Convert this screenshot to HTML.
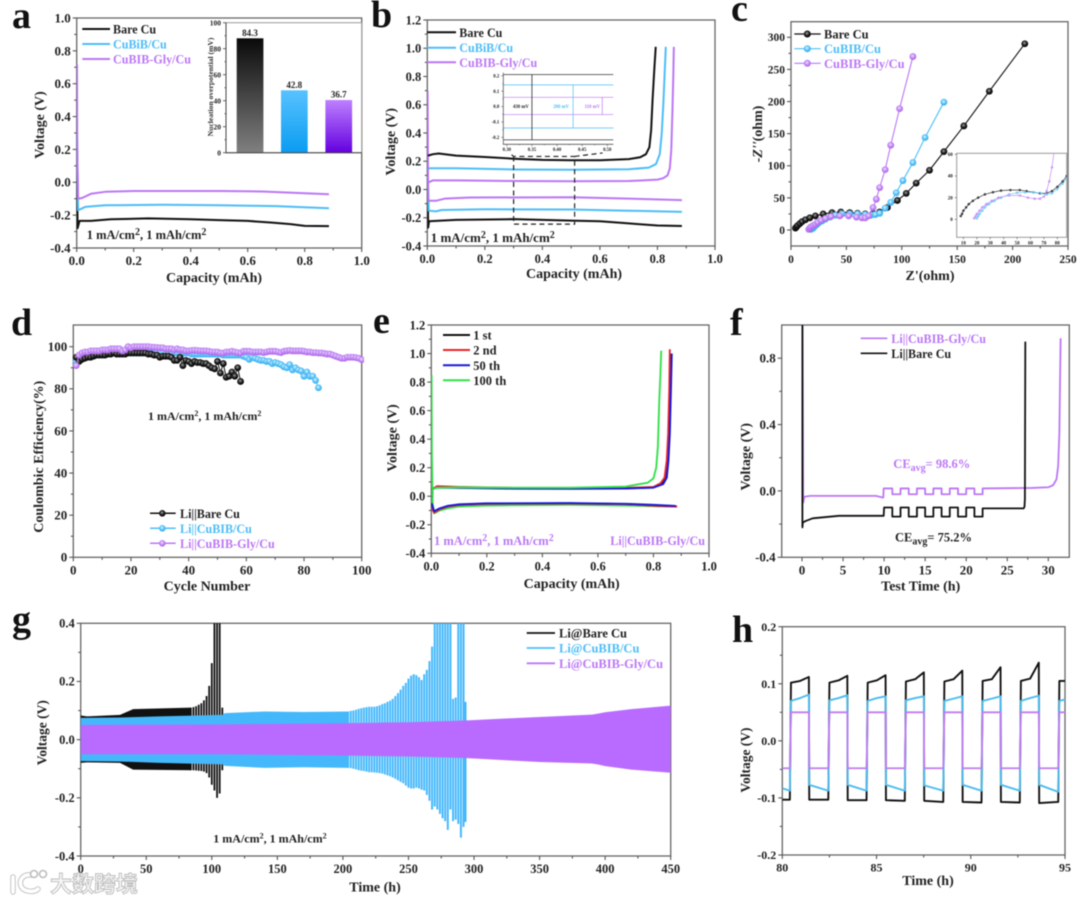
<!DOCTYPE html>
<html lang="en">
<head>
<meta charset="utf-8">
<title>Electrochemical performance panels</title>
<style>
html,body{margin:0;padding:0;background:#fff;}
body{width:1080px;height:903px;overflow:hidden;}
svg{display:block;filter:blur(0.55px);font-family:"Liberation Serif","Noto Serif CJK SC",serif;font-weight:bold;}
.frame{fill:none;stroke:#666;stroke-width:1.3;}
.title{font-size:14px;text-anchor:middle;fill:#222;}
.leg{font-size:12.1px;}
.leg2{font-size:12.5px;}
.letter{font-size:38px;fill:#111;}
.note{fill:#222;}
</style>
</head>
<body>
<svg id="figure" xmlns="http://www.w3.org/2000/svg" width="1080" height="903" viewBox="0 0 1080 903">
<defs>
<radialGradient id="sphere-black" cx="45%" cy="40%" r="60%"><stop offset="0" stop-color="#aaa"/><stop offset="0.5" stop-color="#222"/><stop offset="1" stop-color="#000"/></radialGradient>
<radialGradient id="sphere-blue" cx="45%" cy="40%" r="60%"><stop offset="0" stop-color="#e6f7ff"/><stop offset="0.5" stop-color="#62c6f8"/><stop offset="1" stop-color="#2faaf0"/></radialGradient>
<radialGradient id="sphere-purple" cx="45%" cy="40%" r="60%"><stop offset="0" stop-color="#f0e2ff"/><stop offset="0.5" stop-color="#c48ff5"/><stop offset="1" stop-color="#ab5eee"/></radialGradient>
<linearGradient id="bar-black" x1="0" y1="0" x2="0" y2="1"><stop offset="0" stop-color="#0a0a0a"/><stop offset="1" stop-color="#808080"/></linearGradient>
<linearGradient id="bar-blue" x1="0" y1="0" x2="0" y2="1"><stop offset="0" stop-color="#58c2ff"/><stop offset="1" stop-color="#0a9cf2"/></linearGradient>
<linearGradient id="bar-purple" x1="0" y1="0" x2="0" y2="1"><stop offset="0" stop-color="#bd80ff"/><stop offset="1" stop-color="#6400df"/></linearGradient>
<clipPath id="clip-a"><rect x="76.7" y="18" width="285" height="230"/></clipPath>
<clipPath id="clip-b"><rect x="427.3" y="20" width="287.7" height="226"/></clipPath>
<clipPath id="clip-c"><rect x="791" y="21.7" width="277" height="224.3"/></clipPath>
<clipPath id="clip-ci"><rect x="956.7" y="153.3" width="110" height="84"/></clipPath>
<clipPath id="clip-d"><rect x="70" y="325" width="294" height="232.3"/></clipPath>
<clipPath id="clip-e"><rect x="431.3" y="325" width="277.7" height="228.3"/></clipPath>
<clipPath id="clip-f"><rect x="781.7" y="325" width="287.6" height="232.3"/></clipPath>
<clipPath id="clip-g"><rect x="80.7" y="623.3" width="590" height="232.7"/></clipPath>
<clipPath id="clip-h"><rect x="782.3" y="626.7" width="282.7" height="228.3"/></clipPath>
</defs>

<!-- panel a -->
<g id="panel-a">
<text class="letter" x="12" y="28">a</text>
<rect class="frame" x="76.7" y="18" width="285" height="230"/>
<g id="a-axes"></g>
<g id="a-marks" clip-path="url(#clip-a)"></g>
<text class="title" x="214" y="282">Capacity (mAh)</text>
<text class="title" transform="translate(44,125) rotate(-90)">Voltage (V)</text>
<g>
<line x1="82.3" x2="110" y1="29" y2="29" stroke="#111" stroke-width="2"/>
<text class="leg" x="113" y="33.5" fill="#222">Bare Cu</text>
<line x1="82.3" x2="110" y1="44" y2="44" stroke="#4dbdf7" stroke-width="2"/>
<text class="leg" x="113" y="48.5" fill="#4dbdf7">CuBiB/Cu</text>
<line x1="82.3" x2="110" y1="59" y2="59" stroke="#bb77f5" stroke-width="2"/>
<text class="leg" x="113" y="63.5" fill="#bb77f5">CuBIB-Gly/Cu</text>
</g>
<text class="note" x="86.7" y="239" style="font-size:12.5px">1 mA/cm<tspan dy="-4" style="font-size:10px">2</tspan><tspan dy="4">, 1 mAh/cm</tspan><tspan dy="-4" style="font-size:10px">2</tspan></text>
<g id="a-inset">
<rect x="226" y="22.7" width="135.7" height="130" fill="#fff" stroke="#999" stroke-width="1"/>
<text x="0" y="0" transform="translate(213,87) rotate(-90)" font-size="7.6" text-anchor="middle" fill="#333">Nucleation overpotential (mV)</text>
</g>
</g>

<!-- panel b -->
<g id="panel-b">
<text class="letter" x="371" y="27">b</text>
<rect class="frame" x="427.3" y="20" width="287.7" height="226"/>
<g id="b-axes"></g>
<g id="b-marks" clip-path="url(#clip-b)"></g>
<text class="title" x="574" y="278">Capacity (mAh)</text>
<text class="title" transform="translate(395,141.7) rotate(-90)">Voltage (V)</text>
<g>
<line x1="427" x2="456" y1="32.3" y2="32.3" stroke="#111" stroke-width="2"/>
<text class="leg" x="459.3" y="37" fill="#222">Bare Cu</text>
<line x1="427" x2="456" y1="47.7" y2="47.7" stroke="#4dbdf7" stroke-width="2"/>
<text class="leg" x="459.3" y="52" fill="#4dbdf7">CuBiB/Cu</text>
<line x1="427" x2="456" y1="62.3" y2="62.3" stroke="#bb77f5" stroke-width="2"/>
<text class="leg" x="459.3" y="67" fill="#bb77f5">CuBIB-Gly/Cu</text>
</g>
<text class="note" x="430.7" y="242" style="font-size:13px">1 mA/cm<tspan dy="-4" style="font-size:10px">2</tspan><tspan dy="4">, 1 mAh/cm</tspan><tspan dy="-4" style="font-size:10px">2</tspan></text>
<g id="b-inset"></g>
</g>

<!-- panel c -->
<g id="panel-c">
<text class="letter" x="731" y="21">c</text>
<rect class="frame" x="791" y="21.7" width="277" height="224.3"/>
<g id="c-axes"></g>
<g id="c-marks" clip-path="url(#clip-c)"></g>
<text class="title" x="930" y="280">Z'(ohm)</text>
<text class="title" transform="translate(762,134) rotate(-90)">-<tspan font-style="italic">Z''</tspan>(ohm)</text>
<g>
<line x1="794.3" x2="820.7" y1="34" y2="34" stroke="#111" stroke-width="1.2"/>
<circle cx="807.3" cy="34" r="3.5" fill="url(#sphere-black)"/>
<text class="leg2" x="824" y="38.5" fill="#222">Bare Cu</text>
<line x1="794.3" x2="820.7" y1="48.7" y2="48.7" stroke="#4dbdf7" stroke-width="1.2"/>
<circle cx="807.3" cy="48.7" r="3.5" fill="url(#sphere-blue)"/>
<text class="leg2" x="824" y="53" fill="#4dbdf7">CuBIB/Cu</text>
<line x1="794.3" x2="820.7" y1="63.3" y2="63.3" stroke="#bb77f5" stroke-width="1.2"/>
<circle cx="807.3" cy="63.3" r="3.5" fill="url(#sphere-purple)"/>
<text class="leg2" x="824" y="68" fill="#bb77f5">CuBIB-Gly/Cu</text>
</g>
<g id="c-inset">
<rect x="956.7" y="153.3" width="110" height="84" fill="#fff" stroke="#999" stroke-width="1"/>
</g>
</g>

<!-- panel d -->
<g id="panel-d">
<text class="letter" x="11" y="335">d</text>
<rect class="frame" x="73.3" y="325" width="288.4" height="232.3"/>
<g id="d-axes"></g>
<g id="d-marks" clip-path="url(#clip-d)"></g>
<text class="title" x="207" y="590.7">Cycle Number</text>
<text class="title" transform="translate(43,456.7) rotate(-90)">Coulombic Efficiency(%)</text>
<text class="note" x="148" y="420" style="font-size:12px">1 mA/cm<tspan dy="-4" style="font-size:8px">2</tspan><tspan dy="4">, 1 mAh/cm</tspan><tspan dy="-4" style="font-size:8px">2</tspan></text>
<g>
<line x1="150" x2="175.7" y1="513.3" y2="513.3" stroke="#111" stroke-width="1.5"/>
<circle cx="162.3" cy="513.3" r="3.3" fill="url(#sphere-black)"/>
<text class="leg" x="180" y="518" fill="#222">Li||Bare Cu</text>
<line x1="150" x2="175.7" y1="528.3" y2="528.3" stroke="#4dbdf7" stroke-width="1.5"/>
<circle cx="162.3" cy="528.3" r="3.3" fill="url(#sphere-blue)"/>
<text class="leg" x="180" y="533" fill="#4dbdf7">Li||CuBIB/Cu</text>
<line x1="150" x2="175.7" y1="543.3" y2="543.3" stroke="#bb77f5" stroke-width="1.5"/>
<circle cx="162.3" cy="543.3" r="3.3" fill="url(#sphere-purple)"/>
<text class="leg" x="180" y="548" fill="#bb77f5">Li||CuBIB-Gly/Cu</text>
</g>
</g>

<!-- panel e -->
<g id="panel-e">
<text class="letter" x="373" y="333">e</text>
<rect class="frame" x="431.3" y="325" width="277.7" height="228.3"/>
<g id="e-axes"></g>
<g id="e-marks" clip-path="url(#clip-e)"></g>
<text class="title" x="571.7" y="588">Capacity (mAh)</text>
<text class="title" transform="translate(396.7,438) rotate(-90)">Voltage (V)</text>
<g>
<line x1="443" x2="470" y1="335" y2="335" stroke="#111" stroke-width="2"/>
<text class="leg2" x="473.3" y="339.5" fill="#222">1 st</text>
<line x1="443" x2="470" y1="350" y2="350" stroke="#e8242a" stroke-width="2"/>
<text class="leg2" x="473.3" y="354.5" fill="#222">2 nd</text>
<line x1="443" x2="470" y1="365.3" y2="365.3" stroke="#1a1ad8" stroke-width="2"/>
<text class="leg2" x="473.3" y="369.8" fill="#222">50 th</text>
<line x1="443" x2="470" y1="380.3" y2="380.3" stroke="#35e04a" stroke-width="2"/>
<text class="leg2" x="473.3" y="384.8" fill="#222">100 th</text>
</g>
<text class="note" x="434" y="545" style="fill:#bb77f5;font-size:12.5px">1 mA/cm<tspan dy="-4" style="font-size:10px">2</tspan><tspan dy="4">, 1 mAh/cm</tspan><tspan dy="-4" style="font-size:10px">2</tspan></text>
<text class="note" x="705" y="545" text-anchor="end" style="fill:#bb77f5;font-size:12.1px">Li||CuBIB-Gly/Cu</text>
</g>

<!-- panel f -->
<g id="panel-f">
<text class="letter" x="730" y="335">f</text>
<rect class="frame" x="781.7" y="325" width="287.6" height="232.3"/>
<g id="f-axes"></g>
<g id="f-marks" clip-path="url(#clip-f)"></g>
<text class="title" x="920.7" y="590.7">Test Time (h)</text>
<text class="title" transform="translate(750,456.7) rotate(-90)">Voltage (V)</text>
<g>
<line x1="860.7" x2="887.3" y1="338.3" y2="338.3" stroke="#bb77f5" stroke-width="1.6"/>
<text class="leg" x="891.3" y="343" fill="#bb77f5">Li||CuBIB-Gly/Cu</text>
<line x1="860.7" x2="887.3" y1="353.3" y2="353.3" stroke="#111" stroke-width="1.6"/>
<text class="leg" x="891.3" y="358" fill="#222">Li||Bare Cu</text>
</g>
<text class="note" x="893.3" y="468" style="fill:#bb77f5;font-size:12.5px">CE<tspan dy="3" style="font-size:10px">avg</tspan><tspan dy="-3">= 98.6%</tspan></text>
<text class="note" x="895" y="541.7" style="font-size:12.5px">CE<tspan dy="3" style="font-size:10px">avg</tspan><tspan dy="-3">= 75.2%</tspan></text>
</g>

<!-- panel g -->
<g id="panel-g">
<text class="letter" x="12" y="632">g</text>
<rect class="frame" x="80.7" y="623.3" width="590" height="232.7"/>
<g id="g-axes"></g>
<g id="g-marks" clip-path="url(#clip-g)"></g>
<text class="title" x="375" y="891.7">Time (h)</text>
<text class="title" style="font-size:13.5px" transform="translate(46.7,732.7) rotate(-90)">Voltage (V)</text>
<text class="note" x="213.3" y="842.7" style="font-size:12px">1 mA/cm<tspan dy="-4" style="font-size:8px">2</tspan><tspan dy="4">, 1 mAh/cm</tspan><tspan dy="-4" style="font-size:8px">2</tspan></text>
<g>
<line x1="526.7" x2="555" y1="633" y2="633" stroke="#111" stroke-width="1.8"/>
<text class="leg2" x="559" y="637.5" fill="#222">Li@Bare Cu</text>
<line x1="526.7" x2="555" y1="648" y2="648" stroke="#4dbdf7" stroke-width="1.8"/>
<text class="leg2" x="559" y="652.5" fill="#4dbdf7">Li@CuBIB/Cu</text>
<line x1="526.7" x2="555" y1="663.3" y2="663.3" stroke="#bb77f5" stroke-width="1.8"/>
<text class="leg2" x="559" y="667.8" fill="#bb77f5">Li@CuBIB-Gly/Cu</text>
</g>
</g>

<!-- panel h -->
<g id="panel-h">
<text class="letter" x="732" y="642">h</text>
<rect class="frame" x="782.3" y="626.7" width="282.7" height="228.3"/>
<g id="h-axes"></g>
<g id="h-marks" clip-path="url(#clip-h)"></g>
<text class="title" x="928" y="885">Time (h)</text>
<text class="title" style="font-size:13.5px" transform="translate(750,760) rotate(-90)">Voltage (V)</text>
</g>

<!-- watermark -->
<g>
<path d="M13 877 L13 892 M31 875 C19 873 16 889 28 891 C32 892 36 891 38 889" fill="none" stroke="#c4c4c4" stroke-width="5.5" stroke-linecap="round"/>
<path d="M13 877 L13 892 M31 875 C19 873 16 889 28 891 C32 892 36 891 38 889" fill="none" stroke="#fff" stroke-width="3.5" stroke-linecap="round"/>
<circle cx="34" cy="874" r="3.5" fill="#fff" stroke="#bdbdbd" stroke-width="1.6"/>
<circle cx="43" cy="874" r="3.5" fill="#fff" stroke="#bdbdbd" stroke-width="1.6"/>
<text x="50" y="892" font-size="22" fill="#f6f6f6" stroke="#bdbdbd" stroke-width="0.9" style="font-family:'Liberation Sans','Noto Sans CJK SC',sans-serif">大数跨境</text>
</g>
</svg>

<script>
/* ---------- panel a ---------- */
const aXTicks = ['0.0','0.2','0.4','0.6','0.8','1.0'];
const aYTicks = ['-0.4','-0.2','0.0','0.2','0.4','0.6','0.8','1.0'];
const aBareQ = [0.001,0.003,0.01,0.05,0.12,0.25,0.4,0.5,0.6,0.68,0.75,0.8,0.885];
const aBareV = [0.3,-0.28,-0.235,-0.235,-0.225,-0.22,-0.225,-0.23,-0.235,-0.245,-0.255,-0.265,-0.267];
const aCuBIBQ = [0.001,0.005,0.03,0.1,0.3,0.5,0.7,0.885];
const aCuBIBV = [0.3,-0.17,-0.15,-0.14,-0.137,-0.14,-0.145,-0.158];
const aGlyQ = [0.001,0.002,0.005,0.02,0.05,0.1,0.2,0.5,0.65,0.8,0.885];
const aGlyV = [0.72,0.2,-0.1,-0.095,-0.07,-0.058,-0.053,-0.053,-0.056,-0.067,-0.073];
const aInsetYTicks = ['0','20','40','60','80','100'];
const aInsetBars = [88,48,40.5];
const aInsetLabels = ['84.3','42.8','36.7'];

/* ---------- panel b ---------- */
const bXTicks = ['0.0','0.2','0.4','0.6','0.8','1.0'];
const bYTicks = ['-0.4','-0.2','0.0','0.2','0.4','0.6','0.8','1.0','1.2'];
const bBareChargeQ = [0.002,0.02,0.04,0.1,0.2,0.3,0.4,0.5,0.6,0.7,0.74,0.76,0.772,0.778,0.783,0.789,0.794];
const bBareChargeV = [0.24,0.25,0.255,0.24,0.23,0.218,0.21,0.207,0.207,0.215,0.228,0.25,0.3,0.42,0.635,0.85,1.01];
const bCuBIBChargeQ = [0.005,0.1,0.3,0.5,0.7,0.77,0.795,0.808,0.815,0.821,0.825,0.829];
const bCuBIBChargeV = [0.15,0.15,0.142,0.14,0.143,0.155,0.18,0.25,0.4,0.63,0.82,1.01];
const bGlyChargeQ = [0.004,0.02,0.1,0.3,0.5,0.7,0.8,0.82,0.835,0.843,0.848,0.852,0.855,0.857];
const bGlyChargeV = [0.05,0.065,0.065,0.06,0.058,0.06,0.07,0.08,0.1,0.15,0.28,0.55,0.8,1.01];
const bBareDisQ = [0.001,0.003,0.006,0.1,0.3,0.5,0.6,0.7,0.8,0.885];
const bBareDisV = [0.1,-0.27,-0.225,-0.215,-0.21,-0.22,-0.225,-0.24,-0.255,-0.258];
const bCuBIBDisQ = [0.002,0.005,0.03,0.05,0.2,0.5,0.7,0.885];
const bCuBIBDisV = [0.1,-0.15,-0.155,-0.145,-0.14,-0.142,-0.15,-0.158];
const bGlyDisQ = [0.001,0.003,0.03,0.06,0.15,0.5,0.7,0.885];
const bGlyDisV = [0.7,-0.08,-0.08,-0.065,-0.057,-0.055,-0.065,-0.075];
const bBoxQ = [0.3,0.512];
const bBoxV = [0.234,-0.245];
const biXTicks = ['0.30','0.35','0.40','0.45','0.50'];
const biYTicks = ['-0.2','-0.1','0.0','0.1','0.2'];
const biLevels = [0.208,0.141,0.06,-0.052,-0.139,-0.216];
const biGapTop = [0.208,0.141,0.06];
const biGapBottom = [-0.216,-0.139,-0.052];
const biGapQ = [0.35,0.432,0.49];
const biGapLabels = ['430 mV','280 mV','110 mV'];

/* ---------- panel c ---------- */
const cXTicks = ['0','50','100','150','200','250'];
const cYTicks = ['0','50','100','150','200','250','300'];
const cBareZr = [4,5,6,8,10,13,17,22,29,37,45,53,60,67,74,80,87,96,104,113,125,138,156,179,211];
const cBareZi = [3,5,7,10,13,16,19,22,25,27,28,27,26,25,26,28,35,46,57,73,93,122,162,216,290];
const cCuBIBZr = [18,19,20,21,23,25,28,31,35,40,46,53,60,67,72,76,80,85,90,95,101,110,121,138];
const cCuBIBZi = [1,2,3,5,8,11,14,17,20,23,25,25,25,24,23,24,26,34,43,58,77,105,144,199];
const cGlyZr = [16,17,18,20,22,24,27,31,36,44,52,59,64,67,70,74,77,80,85,90,98,110];
const cGlyZi = [1,3,5,7,9,12,15,18,21,22,22,20,19,19,22,35,48,66,94,132,189,270];
const ciXTicks = ['10','20','30','40','50','60','70','80'];
const ciYTicks = ['0','20','40','60'];
const ciBareZr = [8,9,10,12,14,17,21,26,32,38,45,52,57,62,67,72,76,80,84,87];
const ciBareZi = [3,5,8,11,14,17,20,23,25,26.5,27,27,26,25,24,24,26,30,35,40];
const ciCuBIBZr = [20,21,22,24,26,29,33,38,44,50,56,62,68,72,76,80,84,87];
const ciCuBIBZi = [1,3,5,8,11,14,17,20,23,24.5,25,25,24,23,24,28,33,38];
const ciGlyZr = [18,19,20,22,24,27,31,36,44,52,58,63,67,70,72,74,76,78];
const ciGlyZi = [1,3,5,8,11,14,17,20,22,22,20,19,19,21,26,35,48,66];

/* ---------- panel d ---------- */
const dXTicks = ['0','20','40','60','80','100'];
const dYTicks = ['0','20','40','60','80','100'];
const dBareCE = [95,93,94,94.5,95,95,95.5,96,96,96,96,96.5,96.5,97,96.5,96.5,96.5,96.5,97,97,97,97,97,97,97,96.5,96.5,96,96,95,95.5,95.5,95.5,95,93.5,93.5,95,91,93.5,93,92,93,92.5,92.5,92,92,91,90,89.5,93,87.5,92,85.5,86,88,86,90,83.5];
const dCuBIBCE = [93,94,95,95.5,96,96,96,96,96.5,96.5,96.5,96.5,97,97,97,97,97,97,97,97,97,97,97,97,97,97,97,97,97,97,97,97,97,97,97,97,97,97,97,97,96.5,96.5,96.5,96.5,96.5,96.5,96.5,96.5,96.5,96.5,96.5,96,96,96,96,96,96,96,95.5,95,94,95,94.5,94,93.5,93.5,93,93,92,92.5,92,91.5,90.5,90,91.5,89,90,89,88.5,86,88,86,86,84,80.5];
const dGlyCE = [91,96,97,97.5,97.5,98,98,98,98,98.5,98.5,98.5,99,99,99,99,98,98.5,100,99.5,100,100,100,100,100,100,99.8,99.7,99.6,99.5,99.5,99,99,99,98.5,99,98.5,98.5,98,98,98.2,98.3,98.2,98,98,98,97.8,97.5,97.5,97.5,97,97,97.5,97.5,97.8,97.5,97.2,97,97.8,97.8,97.8,97.5,97.5,97.5,97.5,97.2,97.5,97.8,97.8,97.8,97.5,97.2,97.8,98,98.2,98,98,98,98,97.8,97.5,97.5,97.2,97.2,97,97,96.8,96.5,96.5,96,95.5,95,94.5,94.5,95,95,95,94.8,94.5,93.8];

/* ---------- panel e ---------- */
const eXTicks = ['0.0','0.2','0.4','0.6','0.8','1.0'];
const eYTicks = ['-0.4','-0.2','0.0','0.2','0.4','0.6','0.8','1.0','1.2'];
const e1stChargeQ = [0.002,0.005,0.02,0.1,0.3,0.5,0.7,0.8,0.83,0.845,0.852,0.857,0.861,0.865];
const e1stChargeV = [0.0,0.05,0.065,0.06,0.055,0.055,0.056,0.062,0.09,0.13,0.25,0.44,0.75,1.0];
const e2ndChargeQ = [0.002,0.005,0.02,0.1,0.3,0.5,0.7,0.8,0.825,0.84,0.848,0.853,0.857,0.859];
const e2ndChargeV = [0.0,0.05,0.07,0.065,0.058,0.056,0.058,0.065,0.09,0.13,0.25,0.44,0.75,1.03];
const e50thChargeQ = [0.002,0.005,0.02,0.1,0.3,0.5,0.7,0.8,0.835,0.848,0.854,0.859,0.863,0.866];
const e50thChargeV = [0.0,0.05,0.06,0.058,0.053,0.052,0.054,0.06,0.085,0.13,0.25,0.44,0.75,1.0];
const e100thChargeQ = [0.002,0.005,0.02,0.1,0.3,0.5,0.7,0.78,0.8,0.81,0.816,0.821,0.825,0.828];
const e100thChargeV = [0.0,0.05,0.06,0.062,0.06,0.06,0.068,0.095,0.125,0.2,0.35,0.675,0.85,1.02];
const e1stDisQ = [0.001,0.01,0.03,0.06,0.1,0.2,0.5,0.7,0.8,0.885];
const e1stDisV = [-0.05,-0.11,-0.09,-0.07,-0.06,-0.052,-0.05,-0.055,-0.065,-0.072];
const e2ndDisQ = [0.001,0.01,0.03,0.06,0.1,0.2,0.5,0.7,0.8,0.885];
const e2ndDisV = [-0.08,-0.115,-0.092,-0.072,-0.061,-0.053,-0.051,-0.056,-0.066,-0.073];
const e50thDisQ = [0.001,0.01,0.03,0.06,0.1,0.2,0.5,0.7,0.8,0.88];
const e50thDisV = [-0.05,-0.105,-0.085,-0.067,-0.057,-0.05,-0.048,-0.053,-0.06,-0.068];
const e100thDisQ = [0.001,0.002,0.005,0.01,0.03,0.06,0.1,0.2,0.5,0.7,0.85];
const e100thDisV = [0.85,0.3,-0.05,-0.12,-0.1,-0.085,-0.072,-0.065,-0.06,-0.065,-0.072];

/* ---------- panel f ---------- */
const fXTicks = ['0','5','10','15','20','25','30'];
const fYTicks = ['-0.4','0.0','0.4','0.8'];
const fGlyT = [0.05,0.15,0.3,1,9,9.9,9.95,10,11,11,12,12,13,13,14,14,15,15,16,16,17,17,18,18,19,19,20,20,21,21,22,22,28,30,30.6,31,31.2,31.35,31.5];
const fGlyV = [1.2,-0.07,-0.035,-0.03,-0.03,-0.04,0.015,0.015,0.015,-0.02,-0.02,0.015,0.015,-0.02,-0.02,0.015,0.015,-0.02,-0.02,0.015,0.015,-0.02,-0.02,0.015,0.015,-0.02,-0.02,0.015,0.015,-0.02,-0.02,0.015,0.018,0.022,0.035,0.07,0.15,0.35,0.92];
const fBareT = [0.05,0.05,0.1,0.5,1.3,4.5,9.95,10,11,11,12,12,13,13,14,14,15,15,16,16,17,17,18,18,19,19,20,20,21,21,22,22,27,27.1,27.15,27.2];
const fBareV = [1.2,-0.22,-0.19,-0.18,-0.165,-0.15,-0.15,-0.1,-0.1,-0.155,-0.155,-0.1,-0.1,-0.155,-0.155,-0.1,-0.1,-0.155,-0.155,-0.1,-0.1,-0.155,-0.155,-0.1,-0.1,-0.155,-0.155,-0.1,-0.1,-0.155,-0.155,-0.105,-0.105,-0.095,-0.05,0.9];

/* ---------- panel g ---------- */
const gXTicks = ['0','50','100','150','200','250','300','350','400','450'];
const gYTicks = ['-0.4','-0.2','0.0','0.2','0.4'];
const gBareBandT = [0,5,30,40,84];
const gBareBandUp = [0.083,0.08,0.085,0.105,0.11];
const gBareBandLow = [-0.08,-0.078,-0.08,-0.103,-0.105];
const gBareSpikeT = [84,86,88,90,92,94,96,98,100,102,104,106,108];
const gBareSpikeUp = [0.11,0.112,0.115,0.12,0.125,0.135,0.15,0.185,0.263,0.45,0.45,0.45,0.11];
const gBareSpikeLow = [-0.105,-0.105,-0.106,-0.107,-0.108,-0.11,-0.115,-0.13,-0.155,-0.175,-0.2,-0.185,-0.105];
const gCuBIBBandT = [0,30,60,108,110,140,170,204];
const gCuBIBBandUp = [0.075,0.076,0.08,0.085,0.091,0.097,0.095,0.097];
const gCuBIBBandLow = [-0.074,-0.075,-0.08,-0.085,-0.09,-0.097,-0.095,-0.097];
const gCuBIBSpikeT = [204,206,208,210,212,214,216,218,220,222,224,226,228,230,232,234,236,238,240,242,244,246,248,250,252,254,256,258,260,262,264,266,268,270,272,274,276,278,280,282,284,286,288,290,292,293.5];
const gCuBIBSpikeUp = [0.097,0.099,0.1,0.103,0.106,0.108,0.11,0.112,0.113,0.113,0.113,0.115,0.118,0.122,0.125,0.13,0.134,0.14,0.15,0.16,0.172,0.185,0.195,0.21,0.22,0.225,0.222,0.215,0.205,0.225,0.24,0.27,0.32,0.45,0.45,0.45,0.45,0.45,0.45,0.45,0.14,0.145,0.45,0.45,0.45,0.13];
const gCuBIBSpikeLow = [-0.097,-0.098,-0.1,-0.102,-0.105,-0.107,-0.108,-0.11,-0.112,-0.112,-0.113,-0.114,-0.115,-0.117,-0.12,-0.123,-0.126,-0.13,-0.135,-0.14,-0.145,-0.15,-0.158,-0.165,-0.168,-0.168,-0.165,-0.168,-0.172,-0.175,-0.19,-0.21,-0.24,-0.23,-0.24,-0.255,-0.27,-0.28,-0.31,-0.24,-0.28,-0.275,-0.29,-0.337,-0.3,-0.283];
const gGlyBandT = [0,100,206,250,293,350,390,395,400,420,450];
const gGlyBandUp = [0.051,0.052,0.057,0.06,0.066,0.078,0.086,0.09,0.094,0.105,0.117];
const gGlyBandLow = [-0.05,-0.05,-0.055,-0.058,-0.063,-0.077,-0.082,-0.086,-0.091,-0.103,-0.114];

/* ---------- panel h ---------- */
const hXTicks = ['80','85','90','95'];
const hYTicks = ['-0.2','-0.1','0.0','0.1','0.2'];
const hRise = [80.4,82.44,84.47,86.5,88.54,90.57,92.6,94.64];
const hFall = [81.43,83.47,85.5,87.53,89.57,91.6,93.63,96];
const hBareUpStart = [0.102,0.102,0.102,0.104,0.104,0.105,0.105,0.105];
const hBareUpMid = [0.105,0.106,0.106,0.108,0.108,0.108,0.109,0.105];
const hBareUpEnd = [0.112,0.114,0.115,0.12,0.123,0.129,0.137,0.105];
const hBareLowStart = [-0.103,-0.104,-0.104,-0.105,-0.107,-0.107,-0.109,-0.109];
const hBareLowEnd = [-0.103,-0.104,-0.105,-0.107,-0.108,-0.108,-0.107,-0.107];
const hCuBIBUpStart = [0.07,0.071,0.07,0.071,0.07,0.07,0.07,0.07];
const hCuBIBUpMid = [0.075,0.075,0.075,0.075,0.074,0.074,0.075,0.074];
const hCuBIBUpEnd = [0.081,0.08,0.078,0.078,0.078,0.078,0.079,0.074];
const hCuBIBLowStart = [-0.077,-0.077,-0.077,-0.078,-0.077,-0.077,-0.077,-0.077];
const hCuBIBLowEnd = [-0.087,-0.087,-0.087,-0.087,-0.087,-0.087,-0.089,-0.089];
const hGlyUp = [0.05,0.05,0.05,0.05,0.05,0.05,0.05,0.05];
const hGlyLow = [-0.048,-0.048,-0.048,-0.048,-0.048,-0.048,-0.048,-0.048];

/* ---------- colours ---------- */
const BLACK = '#111', BLUE = '#4dbdf7', PURPLE = '#bb77f5';
const NS = 'http://www.w3.org/2000/svg';

function linear(d0, d1, r0, r1) {
  return function (v) { return r0 + (v - d0) * (r1 - r0) / (d1 - d0); };
}
function gEl(id) { return document.getElementById(id); }
function make(tag, parent) {
  const el = document.createElementNS(NS, tag);
  parent.appendChild(el);
  return el;
}
function tickLine(parent, x1, y1, x2, y2, w, color) {
  const l = make('line', parent);
  l.setAttribute('x1', x1); l.setAttribute('y1', y1);
  l.setAttribute('x2', x2); l.setAttribute('y2', y2);
  l.setAttribute('stroke', color || '#555');
  l.setAttribute('stroke-width', w);
  
  
}
function tickText(parent, x, y, txt, size, anchor) {
  const t = make('text', parent);
  t.setAttribute('x', x); t.setAttribute('y', y);
  t.setAttribute('font-size', size);
  t.setAttribute('text-anchor', anchor);
  t.setAttribute('fill', '#222');
  t.textContent = txt;
  
  
}
/* draws ticks + labels; minor step subdivides between labelled ticks */
function axes(parent, X, Y, xTicks, yTicks, o) {
  const baseY = o.bottom, baseX = o.left;
  const fs = o.fs, maj = o.maj === undefined ? 4 : o.maj, min = o.min === undefined ? 2.5 : o.min;
  const w = o.w || 1.1;
  const xv = xTicks.map(Number), yv = yTicks.map(Number);
  xv.forEach(function (v, i) {
    tickLine(parent, X(v), baseY, X(v), baseY + maj, w);
    tickText(parent, X(v), baseY + o.xoff, xTicks[i], fs, 'middle');
    if (o.xMinor && i < xv.length - 1) {
      for (let m = v + o.xMinor; m < xv[i + 1] - 1e-6; m += o.xMinor) tickLine(parent, X(m), baseY, X(m), baseY + min, w);
    }
  });
  yv.forEach(function (v, i) {
    tickLine(parent, baseX, Y(v), baseX - maj, Y(v), w);
    tickText(parent, baseX - maj - 2, Y(v) + fs * 0.34, yTicks[i], fs, 'end');
    if (o.yMinor && i < yv.length - 1) {
      for (let m = v + o.yMinor; m < yv[i + 1] - 1e-6; m += o.yMinor) tickLine(parent, baseX, Y(m), baseX - min, Y(m), w);
    }
  });
}
function curve(parent, xs, ys, X, Y, color, w, name) {
  const p = make('path', parent);
  p.setAttribute('d', xs.map(function (v, i) { return (i ? 'L' : 'M') + X(v).toFixed(2) + ' ' + Y(ys[i]).toFixed(2); }).join(''));
  p.setAttribute('fill', 'none');
  p.setAttribute('stroke', color);
  p.setAttribute('stroke-width', w);
  p.setAttribute('stroke-linejoin', 'round');
  
  
}
function dots(parent, xs, ys, X, Y, grad, r, name) {
  xs.forEach(function (v, i) {
    const c = make('circle', parent);
    c.setAttribute('cx', X(v).toFixed(2));
    c.setAttribute('cy', Y(ys[i]).toFixed(2));
    c.setAttribute('r', r);
    c.setAttribute('fill', 'url(#' + grad + ')');
    
    
  });
}
function band(parent, ts, up, low, X, Y, color, name) {
  const top = ts.map(function (t, i) { return X(t).toFixed(2) + ',' + Y(up[i]).toFixed(2); });
  const bot = ts.map(function (t, i) { return X(t).toFixed(2) + ',' + Y(low[i]).toFixed(2); }).reverse();
  const p = make('polygon', parent);
  p.setAttribute('points', top.concat(bot).join(' '));
  p.setAttribute('fill', color);
  
  
}
function spikes(parent, ts, up, low, X, Y, color, w, name) {
  ts.forEach(function (t, i) {
    const l = make('line', parent);
    l.setAttribute('x1', X(t).toFixed(2)); l.setAttribute('x2', X(t).toFixed(2));
    l.setAttribute('y1', Y(up[i]).toFixed(2)); l.setAttribute('y2', Y(low[i]).toFixed(2));
    l.setAttribute('stroke', color);
    l.setAttribute('stroke-width', w);
    
    
  });
}

/* ===== panel a ===== */
(function () {
  const X = linear(0, 1, 76.7, 361.7), Y = linear(-0.4, 1, 248, 18);
  axes(gEl('a-axes'), X, Y, aXTicks, aYTicks, { bottom: 248, left: 76.7, fs: 13, xoff: 17, xMinor: 0.1, yMinor: 0.1 });
  const m = gEl('a-marks');
  curve(m, aBareQ, aBareV, X, Y, BLACK, 2, 'curve-bare-cu');
  curve(m, aCuBIBQ, aCuBIBV, X, Y, BLUE, 2, 'curve-cubib');
  curve(m, aGlyQ, aGlyV, X, Y, PURPLE, 2, 'curve-cubib-gly');
  const ins = gEl('a-inset');
  const IY = linear(0, 100, 152.7, 22.7);
  const centers = [250, 294.3, 338.7];
  const fills = ['bar-black', 'bar-blue', 'bar-purple'];
  axes(ins, linear(0, 1, 226, 361.7), IY, [], aInsetYTicks, { bottom: 152.7, left: 226, fs: 7.5, xoff: 8, yMinor: 10, maj: 3, min: 1.5, w: 0.9 });
  aInsetBars.forEach(function (v, i) {
    const r = make('rect', ins);
    r.setAttribute('x', centers[i] - 13.3);
    r.setAttribute('width', 26.7);
    r.setAttribute('y', IY(v));
    r.setAttribute('height', IY(0) - IY(v));
    r.setAttribute('fill', 'url(#' + fills[i] + ')');
    
    
    const t = make('text', ins);
    t.setAttribute('x', centers[i]);
    t.setAttribute('y', IY(v) - 2.5);
    t.setAttribute('font-size', 9);
    t.setAttribute('text-anchor', 'middle');
    t.setAttribute('fill', '#222');
    t.textContent = aInsetLabels[i];
    
    
  });
  const bl = make('path', ins);
  bl.setAttribute('d', 'M226 22.7V152.7H361.7');
  bl.setAttribute('fill', 'none');
  bl.setAttribute('stroke', '#444');
  bl.setAttribute('stroke-width', 1);
  
  
})();

/* ===== panel b ===== */
(function () {
  const X = linear(0, 1, 427.3, 715), Y = linear(-0.4, 1.2, 246, 20);
  axes(gEl('b-axes'), X, Y, bXTicks, bYTicks, { bottom: 246, left: 427.3, fs: 12.5, xoff: 17, xMinor: 0.1, yMinor: 0.1 });
  const m = gEl('b-marks');
  curve(m, bBareDisQ, bBareDisV, X, Y, BLACK, 2, 'plating-curve-bare-cu');
  curve(m, bCuBIBDisQ, bCuBIBDisV, X, Y, BLUE, 2, 'plating-curve-cubib');
  curve(m, bGlyDisQ, bGlyDisV, X, Y, PURPLE, 2, 'plating-curve-cubib-gly');
  curve(m, bBareChargeQ, bBareChargeV, X, Y, BLACK, 2, 'stripping-curve-bare-cu');
  curve(m, bCuBIBChargeQ, bCuBIBChargeV, X, Y, BLUE, 2, 'stripping-curve-cubib');
  curve(m, bGlyChargeQ, bGlyChargeV, X, Y, PURPLE, 2, 'stripping-curve-cubib-gly');
  const box = make('path', m);
  box.setAttribute('d', 'M' + X(bBoxQ[0]) + ' ' + Y(bBoxV[0]) + 'V' + Y(bBoxV[1]) + 'H' + X(bBoxQ[1]) + 'V' + Y(bBoxV[0]) + 'H' + X(bBoxQ[0]) + 'L' + (X(bBoxQ[0]) - 4) + ' ' + (Y(bBoxV[0]) - 3.5) + 'M' + X(bBoxQ[1]) + ' ' + Y(bBoxV[0]) + 'L' + (X(bBoxQ[1]) + 28) + ' ' + (Y(bBoxV[0]) - 3.5));
  box.setAttribute('fill', 'none');
  box.setAttribute('stroke', '#222');
  box.setAttribute('stroke-width', 1.2);
  box.setAttribute('stroke-dasharray', '5 3.5');
  
  
  /* inset */
  const ins = gEl('b-inset');
  const IX = linear(0.293, 0.512, 503.3, 613.3), IY = linear(-0.245, 0.22, 144.3, 72.7);
  axes(ins, IX, IY, biXTicks, biYTicks, { bottom: 144.3, left: 503.3, fs: 4.8, xoff: 6.5, maj: 2, min: 1, xMinor: 0.025, yMinor: 0.05, w: 0.6 });
  const levelColors = [BLACK, BLUE, PURPLE, PURPLE, BLUE, BLACK];
  biLevels.forEach(function (v, i) {
    const l = make('line', ins);
    l.setAttribute('x1', 503.3); l.setAttribute('x2', 613.3);
    l.setAttribute('y1', IY(v)); l.setAttribute('y2', IY(v));
    l.setAttribute('stroke', levelColors[i]);
    l.setAttribute('stroke-width', 0.7);
    
    
  });
  const gapColors = [BLACK, BLUE, PURPLE];
  const labelDx = [-11, -12, -10];
  biGapQ.forEach(function (q, i) {
    const l = make('line', ins);
    l.setAttribute('x1', IX(q)); l.setAttribute('x2', IX(q));
    l.setAttribute('y1', IY(biGapTop[i])); l.setAttribute('y2', IY(biGapBottom[i]));
    l.setAttribute('stroke', gapColors[i]);
    l.setAttribute('stroke-width', 0.7);
    
    
    const t = make('text', ins);
    t.setAttribute('x', IX(q) + labelDx[i]);
    t.setAttribute('y', 108);
    t.setAttribute('font-size', 4.8);
    t.setAttribute('text-anchor', 'middle');
    t.setAttribute('fill', i === 0 ? '#222' : gapColors[i]);
    t.textContent = biGapLabels[i];
    
    
  });
  const ax = make('path', ins);
  ax.setAttribute('d', 'M503.3 72.7V144.3H613.3');
  ax.setAttribute('fill', 'none');
  ax.setAttribute('stroke', '#555');
  ax.setAttribute('stroke-width', 0.8);
  
  
})();

/* ===== panel c ===== */
(function () {
  const X = linear(0, 250, 791, 1068), Y = linear(0, 300, 230, 37.3);
  axes(gEl('c-axes'), X, Y, cXTicks, cYTicks, { bottom: 246, left: 791, fs: 11.5, xoff: 17, xMinor: 25, yMinor: 25 });
  const m = gEl('c-marks');
  curve(m, cBareZr, cBareZi, X, Y, BLACK, 1.1, 'nyquist-line-bare-cu');
  dots(m, cBareZr, cBareZi, X, Y, 'sphere-black', 3.4, 'nyquist-point-bare-cu');
  curve(m, cCuBIBZr, cCuBIBZi, X, Y, BLUE, 1.1, 'nyquist-line-cubib');
  dots(m, cCuBIBZr, cCuBIBZi, X, Y, 'sphere-blue', 3.4, 'nyquist-point-cubib');
  curve(m, cGlyZr, cGlyZi, X, Y, PURPLE, 1.1, 'nyquist-line-cubib-gly');
  dots(m, cGlyZr, cGlyZi, X, Y, 'sphere-purple', 3.4, 'nyquist-point-cubib-gly');
  const ins = gEl('c-inset');
  const IX = linear(5, 87, 956.7, 1066.7), IY = linear(0, 60, 219.3, 154.3);
  axes(ins, IX, IY, ciXTicks, ciYTicks, { bottom: 237.3, left: 956.7, fs: 5, xoff: 7, maj: 2, min: 1, w: 0.6 });
  const g = make('g', ins);
  g.setAttribute('clip-path', 'url(#clip-ci)');
  
  
  curve(g, ciBareZr, ciBareZi, IX, IY, BLACK, 0.6, 'inset-line-bare-cu');
  dots(g, ciBareZr, ciBareZi, IX, IY, 'sphere-black', 1.2, 'inset-point-bare-cu');
  curve(g, ciCuBIBZr, ciCuBIBZi, IX, IY, BLUE, 0.6, 'inset-line-cubib');
  dots(g, ciCuBIBZr, ciCuBIBZi, IX, IY, 'sphere-blue', 1.2, 'inset-point-cubib');
  curve(g, ciGlyZr, ciGlyZi, IX, IY, PURPLE, 0.6, 'inset-line-cubib-gly');
  dots(g, ciGlyZr, ciGlyZi, IX, IY, 'sphere-purple', 1.2, 'inset-point-cubib-gly');
})();

/* ===== panel d ===== */
(function () {
  const X = linear(0, 100, 73.3, 361.7), Y = linear(0, 100, 557.3, 346.7);
  axes(gEl('d-axes'), X, Y, dXTicks, dYTicks, { bottom: 557.3, left: 73.3, fs: 13, xoff: 17, xMinor: 10, yMinor: 10 });
  const m = gEl('d-marks');
  const cycles = function (arr) { return arr.map(function (_, i) { return i + 1; }); };
  curve(m, cycles(dCuBIBCE), dCuBIBCE, X, Y, BLUE, 1, 'ce-line-cubib');
  dots(m, cycles(dCuBIBCE), dCuBIBCE, X, Y, 'sphere-blue', 3.4, 'ce-point-cubib');
  curve(m, cycles(dBareCE), dBareCE, X, Y, BLACK, 1, 'ce-line-bare-cu');
  dots(m, cycles(dBareCE), dBareCE, X, Y, 'sphere-black', 3.4, 'ce-point-bare-cu');
  curve(m, cycles(dGlyCE), dGlyCE, X, Y, PURPLE, 1, 'ce-line-cubib-gly');
  dots(m, cycles(dGlyCE), dGlyCE, X, Y, 'sphere-purple', 3.4, 'ce-point-cubib-gly');
})();

/* ===== panel e ===== */
(function () {
  const X = linear(0, 1, 431.3, 709), Y = linear(-0.4, 1.2, 553.3, 325);
  axes(gEl('e-axes'), X, Y, eXTicks, eYTicks, { bottom: 553.3, left: 431.3, fs: 12.5, xoff: 17, xMinor: 0.1, yMinor: 0.1 });
  const m = gEl('e-marks');
  const RED = '#e8242a', NAVY = '#1a1ad8', GREEN = '#35e04a';
  curve(m, e100thDisQ, e100thDisV, X, Y, GREEN, 1.9, 'plating-curve-100th');
  curve(m, e1stDisQ, e1stDisV, X, Y, BLACK, 1.9, 'plating-curve-1st');
  curve(m, e2ndDisQ, e2ndDisV, X, Y, RED, 1.9, 'plating-curve-2nd');
  curve(m, e50thDisQ, e50thDisV, X, Y, NAVY, 1.9, 'plating-curve-50th');
  curve(m, e1stChargeQ, e1stChargeV, X, Y, BLACK, 1.9, 'stripping-curve-1st');
  curve(m, e2ndChargeQ, e2ndChargeV, X, Y, RED, 1.9, 'stripping-curve-2nd');
  curve(m, e50thChargeQ, e50thChargeV, X, Y, NAVY, 1.9, 'stripping-curve-50th');
  curve(m, e100thChargeQ, e100thChargeV, X, Y, GREEN, 1.9, 'stripping-curve-100th');
})();

/* ===== panel f ===== */
(function () {
  const X = linear(0, 30, 802, 1048.3), Y = linear(-0.4, 1, 557.3, 325);
  axes(gEl('f-axes'), X, Y, fXTicks, fYTicks, { bottom: 557.3, left: 781.7, fs: 13, xoff: 17, xMinor: 2.5, yMinor: 0.2 });
  const m = gEl('f-marks');
  curve(m, fGlyT, fGlyV, X, Y, PURPLE, 1.8, 'voltage-trace-cubib-gly');
  curve(m, fBareT, fBareV, X, Y, BLACK, 1.8, 'voltage-trace-bare-cu');
})();

/* ===== panel g ===== */
(function () {
  const X = linear(0, 450, 80.7, 670.7), Y = linear(-0.4, 0.4, 856, 623.3);
  axes(gEl('g-axes'), X, Y, gXTicks, gYTicks, { bottom: 856, left: 80.7, fs: 12.5, xoff: 17, xMinor: 25, yMinor: 0.1 });
  const m = gEl('g-marks');
  band(m, gBareBandT, gBareBandUp, gBareBandLow, X, Y, BLACK, 'cycling-band-bare-cu');
  spikes(m, gBareSpikeT, gBareSpikeUp, gBareSpikeLow, X, Y, BLACK, 1.8, 'cycling-spike-bare-cu');
  band(m, gCuBIBBandT, gCuBIBBandUp, gCuBIBBandLow, X, Y, '#45b8fb', 'cycling-band-cubib');
  spikes(m, gCuBIBSpikeT, gCuBIBSpikeUp, gCuBIBSpikeLow, X, Y, '#45b8fb', 2, 'cycling-spike-cubib');
  band(m, gGlyBandT, gGlyBandUp, gGlyBandLow, X, Y, '#b96bff', 'cycling-band-cubib-gly');
})();

/* ===== panel h ===== */
(function () {
  const X = linear(80, 95, 782.3, 1065), Y = linear(-0.2, 0.2, 855, 626.7);
  axes(gEl('h-axes'), X, Y, hXTicks, hYTicks, { bottom: 855, left: 782.3, fs: 12, xoff: 16.7, xMinor: 2.5, yMinor: 0.05 });
  const m = gEl('h-marks');
  function wave(upS, upM, upE, lowS, lowE, first) {
    const xs = [80, hRise[0] - 0.04], ys = [first, lowE[0]];
    hRise.forEach(function (r, i) {
      const f = hFall[i];
      xs.push(r, r + 0.06, r + 0.55, f - 0.02, f);
      ys.push(i === 0 ? lowE[0] : lowE[i - 1], upS[i], upM[i], upE[i], lowS[i]);
      if (i < hRise.length - 1) { xs.push(hRise[i + 1] - 0.04); ys.push(lowE[i]); }
    });
    return [xs, ys];
  }
  const blk = wave(hBareUpStart, hBareUpMid, hBareUpEnd, hBareLowStart, hBareLowEnd, hBareLowEnd[0]);
  const blu = wave(hCuBIBUpStart, hCuBIBUpMid, hCuBIBUpEnd, hCuBIBLowStart, hCuBIBLowEnd, hCuBIBLowEnd[0] + 0.004);
  const pur = wave(hGlyUp, hGlyUp, hGlyUp, hGlyLow, hGlyLow, hGlyLow[0]);
  curve(m, blk[0], blk[1], X, Y, BLACK, 1.9, 'profile-bare-cu');
  curve(m, blu[0], blu[1], X, Y, '#4cbcee', 1.9, 'profile-cubib');
  curve(m, pur[0], pur[1], X, Y, '#c07cf0', 1.8, 'profile-cubib-gly');
})();
</script>
</body>
</html>
